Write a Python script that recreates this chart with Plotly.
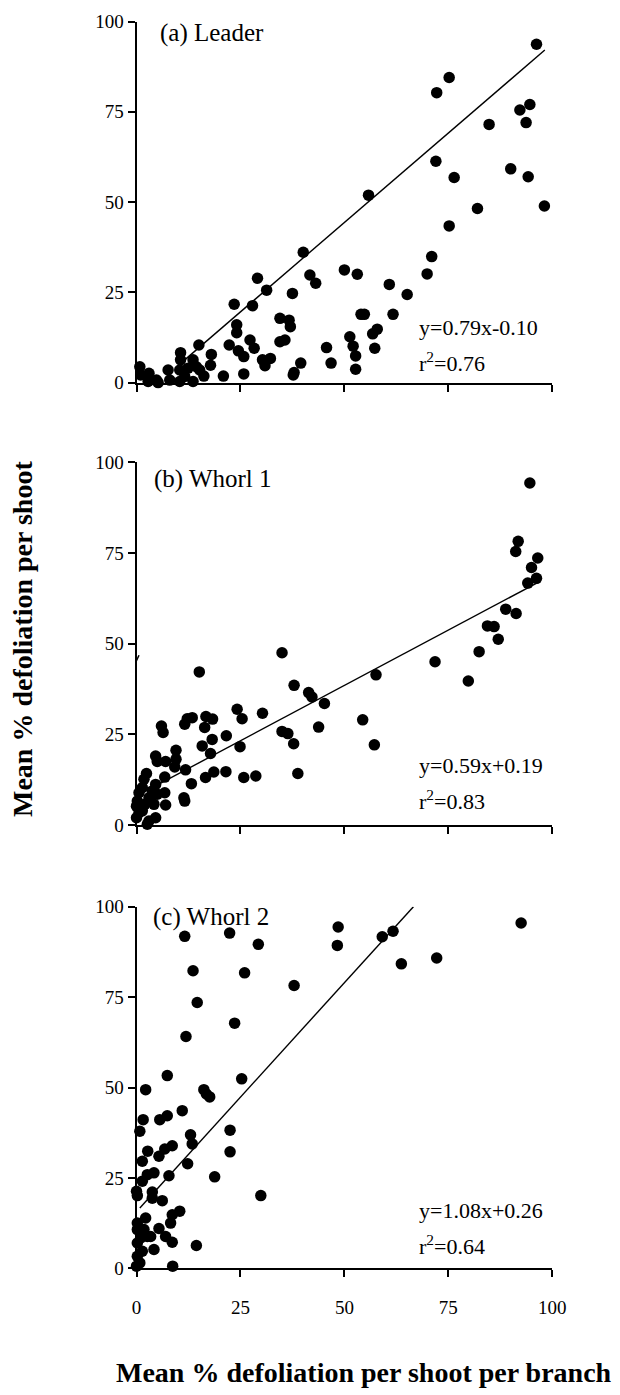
import plotly.graph_objects as go

# ---------------- data ----------------
leader_x = [96.2, 75.2, 72.2, 94.6, 92.2, 93.7, 84.8, 72.0, 76.4, 90.0, 94.2, 98.1, 82.0, 75.2,
            55.8, 71.0, 69.9, 40.1, 41.7, 43.1, 50.0, 53.1, 60.8, 65.1, 54.0, 54.8, 61.7, 57.9,
            56.8, 57.3, 51.3, 52.1, 52.7, 52.7, 45.7, 46.8, 37.5, 34.5, 36.7, 37.0, 35.7, 34.5,
            39.5, 37.9, 37.7, 29.1, 31.3, 23.5, 27.9, 24.1, 24.1, 27.3, 28.3, 22.3, 24.5, 25.8,
            25.8, 30.3, 30.9, 32.2, 20.9, 18.0, 17.8, 15.0, 10.6, 10.6, 13.6, 14.4, 15.2, 16.2,
            12.4, 10.4, 7.6, 8.0, 10.4, 13.6, 4.8, 2.8, 3.0, 0.8, 1.0, 5.2, 11.6]
leader_y = [93.7, 84.5, 80.3, 77.0, 75.5, 72.0, 71.5, 61.3, 56.8, 59.2, 57.0, 48.9, 48.2, 43.4,
            51.9, 34.9, 30.1, 36.1, 29.8, 27.5, 31.2, 30.0, 27.2, 24.4, 18.9, 18.9, 18.9, 14.8,
            13.5, 9.5, 12.7, 10.1, 7.4, 3.7, 9.7, 5.4, 24.7, 17.8, 17.3, 15.5, 11.8, 11.3,
            5.4, 2.8, 2.1, 28.9, 25.6, 21.7, 21.3, 16.0, 13.8, 11.8, 9.5, 10.4, 8.8, 7.2,
            2.4, 6.3, 4.7, 6.7, 1.8, 7.8, 4.8, 10.4, 8.3, 6.3, 6.3, 4.4, 3.5, 1.8,
            4.0, 3.5, 3.5, 0.7, 0.3, 0.3, 0.7, 0.3, 2.6, 4.4, 2.1, 0.0, 1.7]

whorl1_x = [94.6, 91.8, 91.2, 96.5, 95.0, 96.2, 94.1, 91.3, 88.8, 84.4, 86.0, 87.0, 82.4, 79.8,
            71.8, 57.6, 57.2, 54.4, 35.0, 37.9, 41.4, 42.2, 45.2, 43.8, 35.0, 36.4, 37.8, 38.8,
            30.3, 24.2, 25.4, 24.9, 25.8, 28.7, 21.6, 21.5, 15.1, 16.7, 18.3, 16.4, 18.2, 15.8,
            17.8, 18.6, 16.6, 13.4, 12.2, 11.6, 9.5, 9.5, 9.2, 11.8, 13.2, 11.4, 11.6, 6.0,
            6.4, 4.6, 5.0, 7.0, 6.8, 6.8, 7.0, 4.6, 2.4, 1.8, 1.4, 0.6, 0.2, 0.0,
            0.6, 0.0, 1.4, 3.0, 3.8, 3.0, 4.6, 2.6, 4.2, 5.0, 2.0]
whorl1_y = [94.3, 78.2, 75.4, 73.6, 71.0, 68.0, 66.7, 58.3, 59.5, 54.9, 54.7, 51.2, 47.8, 39.7,
            45.0, 41.4, 22.1, 29.0, 47.5, 38.5, 36.5, 35.3, 33.5, 27.0, 25.8, 25.2, 22.4, 14.2,
            30.8, 31.9, 29.3, 21.6, 13.1, 13.5, 24.6, 14.7, 42.2, 29.9, 29.2, 26.9, 23.6, 21.8,
            19.7, 14.6, 13.1, 29.6, 29.3, 27.8, 20.6, 18.1, 16.0, 15.2, 11.4, 7.5, 6.6, 27.3,
            25.5, 19.0, 17.5, 17.5, 13.2, 8.9, 5.5, 11.2, 14.2, 12.6, 10.3, 8.9, 6.6, 5.2,
            3.4, 2.0, 3.9, 7.5, 9.4, 1.1, 2.0, 0.2, 5.7, 8.5, 5.7]

whorl2_x = [92.5, 48.5, 48.3, 59.1, 61.7, 63.7, 72.2, 29.3, 22.4, 11.6, 13.6, 26.0, 37.9, 14.6,
            23.6, 11.9, 25.3, 7.4, 2.2, 16.2, 16.8, 17.6, 11.0, 1.6, 7.4, 5.6, 22.5, 22.5,
            0.8, 13.0, 13.4, 8.6, 6.8, 5.4, 2.7, 1.4, 12.3, 7.8, 18.8, 29.9, 4.2, 2.6,
            1.4, 0.0, 0.2, 3.8, 3.8, 6.2, 10.4, 8.6, 8.2, 2.2, 0.2, 5.4, 7.0, 8.6,
            4.2, 14.4, 8.7, 2.6, 1.0, 0.2, 1.4, 0.2, 0.8, 0.0, 3.4, 1.8, 0.2]
whorl2_y = [95.5, 94.4, 89.3, 91.7, 93.2, 84.2, 85.8, 89.6, 92.7, 91.8, 82.3, 81.7, 78.2, 73.5,
            67.8, 64.1, 52.4, 53.3, 49.4, 49.4, 48.2, 47.4, 43.6, 41.1, 42.2, 41.1, 38.2, 32.2,
            37.9, 36.9, 34.4, 33.9, 33.0, 31.0, 32.4, 29.6, 28.9, 25.6, 25.3, 20.1, 26.4, 25.9,
            24.1, 21.3, 20.1, 21.1, 19.4, 18.7, 15.8, 14.8, 12.5, 13.9, 12.5, 11.0, 8.8, 7.2,
            5.2, 6.3, 0.6, 8.8, 8.4, 7.0, 4.7, 3.3, 1.5, 0.6, 8.8, 10.7, 10.7]

# fitted lines as drawn (end points)
fit_a_x = [11.6, 98.2]
fit_a_y = [6.3, 92.1]
fit_b_x = [3.8, 96.6]
fit_b_y = [10.3, 66.9]
fit_c_x = [0.8, 66.6]
fit_c_y = [16.7, 100.0]

panel_labels = ["(a) Leader", "(b) Whorl 1", "(c) Whorl 2"]
equations = ["y=0.79x-0.10", "y=0.59x+0.19", "y=1.08x+0.26"]
r2_texts = ["r<sup>2</sup>=0.76", "r<sup>2</sup>=0.83", "r<sup>2</sup>=0.64"]
tick_vals = [0, 25, 50, 75, 100]
tick_text = ["0", "25", "50", "75", "100"]

# ---------------- figure ----------------
W, H = 620, 1395
FONT = "Liberation Serif"

fig = go.Figure()

panels = [
    (leader_x, leader_y, fit_a_x, fit_a_y),
    (whorl1_x, whorl1_y, fit_b_x, fit_b_y),
    (whorl2_x, whorl2_y, fit_c_x, fit_c_y),
]
suffix = ["", "2", "3"]

for i, (px, py, fx, fy) in enumerate(panels):
    xa, ya = "x" + suffix[i], "y" + suffix[i]
    fig.add_trace(go.Scatter(x=fx, y=fy, mode="lines", xaxis=xa, yaxis=ya,
                             line=dict(color="black", width=1.4), showlegend=False,
                             hoverinfo="skip", cliponaxis=False))
    fig.add_trace(go.Scatter(x=px, y=py, mode="markers", xaxis=xa, yaxis=ya,
                             marker=dict(color="black", size=11.5, line=dict(width=0)),
                             showlegend=False, cliponaxis=False))

# pixel layout -> paper fractions
x_left, x_right = 136.5, 552.3
y_pix = [(21.5, 382.6), (462.3, 825.0), (906.7, 1268.3)]

def fx_(p):
    return p / W

def fy_(p):
    return 1 - p / H

axis_common = dict(showline=True, linecolor="black", linewidth=2, ticks="outside",
                   ticklen=7, tickwidth=2, tickcolor="black", showgrid=False,
                   zeroline=False, range=[0, 100], tickvals=tick_vals, ticktext=tick_text,
                   tickfont=dict(family=FONT, size=19, color="black"), fixedrange=True,
                   automargin=False)

layout = dict(width=W, height=H, margin=dict(l=0, r=0, t=0, b=0, pad=0, autoexpand=False),
              paper_bgcolor="white", plot_bgcolor="white", template="none",
              font=dict(family=FONT, color="black"))

for i in range(3):
    top, bot = y_pix[i]
    xk = "xaxis" + suffix[i]
    yk = "yaxis" + suffix[i]
    layout[xk] = dict(axis_common, domain=[fx_(x_left), fx_(x_right)],
                      anchor="y" + suffix[i], showticklabels=(i == 2),
                      ticklabelstandoff=14)
    layout[yk] = dict(axis_common, domain=[fy_(bot), fy_(top)],
                      anchor="x" + suffix[i], showticklabels=True)

fig.update_layout(**layout)

ann = []
label_x = [5.1, 3.8, 3.6]
label_y = [96.8, 95.4, 97.2]
eq_y = [15.3, 16.5, 16.1]
r2_y = [5.8, 6.9, 6.4]
for i in range(3):
    xr, yr = "x" + suffix[i], "y" + suffix[i]
    ann.append(dict(x=label_x[i], y=label_y[i], xref=xr, yref=yr, text=panel_labels[i],
                    showarrow=False, xanchor="left", yanchor="middle",
                    font=dict(family=FONT, size=25, color="black")))
    ann.append(dict(x=67.5, y=eq_y[i], xref=xr, yref=yr, text=equations[i],
                    showarrow=False, xanchor="left", yanchor="middle",
                    font=dict(family=FONT, size=22, color="black")))
    ann.append(dict(x=67.5, y=r2_y[i], xref=xr, yref=yr, text=r2_texts[i],
                    showarrow=False, xanchor="left", yanchor="middle",
                    font=dict(family=FONT, size=22, color="black")))

ann.append(dict(x=fx_(23), y=fy_(639), xref="paper", yref="paper",
                text="<b>Mean % defoliation per shoot</b>", textangle=-90,
                showarrow=False, xanchor="center", yanchor="middle",
                font=dict(family=FONT, size=28, color="black")))
ann.append(dict(x=fx_(364), y=fy_(1372), xref="paper", yref="paper",
                text="<b>Mean % defoliation per shoot per branch</b>",
                showarrow=False, xanchor="center", yanchor="middle",
                font=dict(family=FONT, size=28, color="black")))
fig.update_layout(annotations=ann)

# small axis-break mark on panel (b)
fig.add_shape(type="line", xref="x2", yref="y2", x0=-0.6, x1=0.6, y0=43.8, y1=46.8,
              line=dict(color="black", width=1.5))

fig.write_html("out.html")
